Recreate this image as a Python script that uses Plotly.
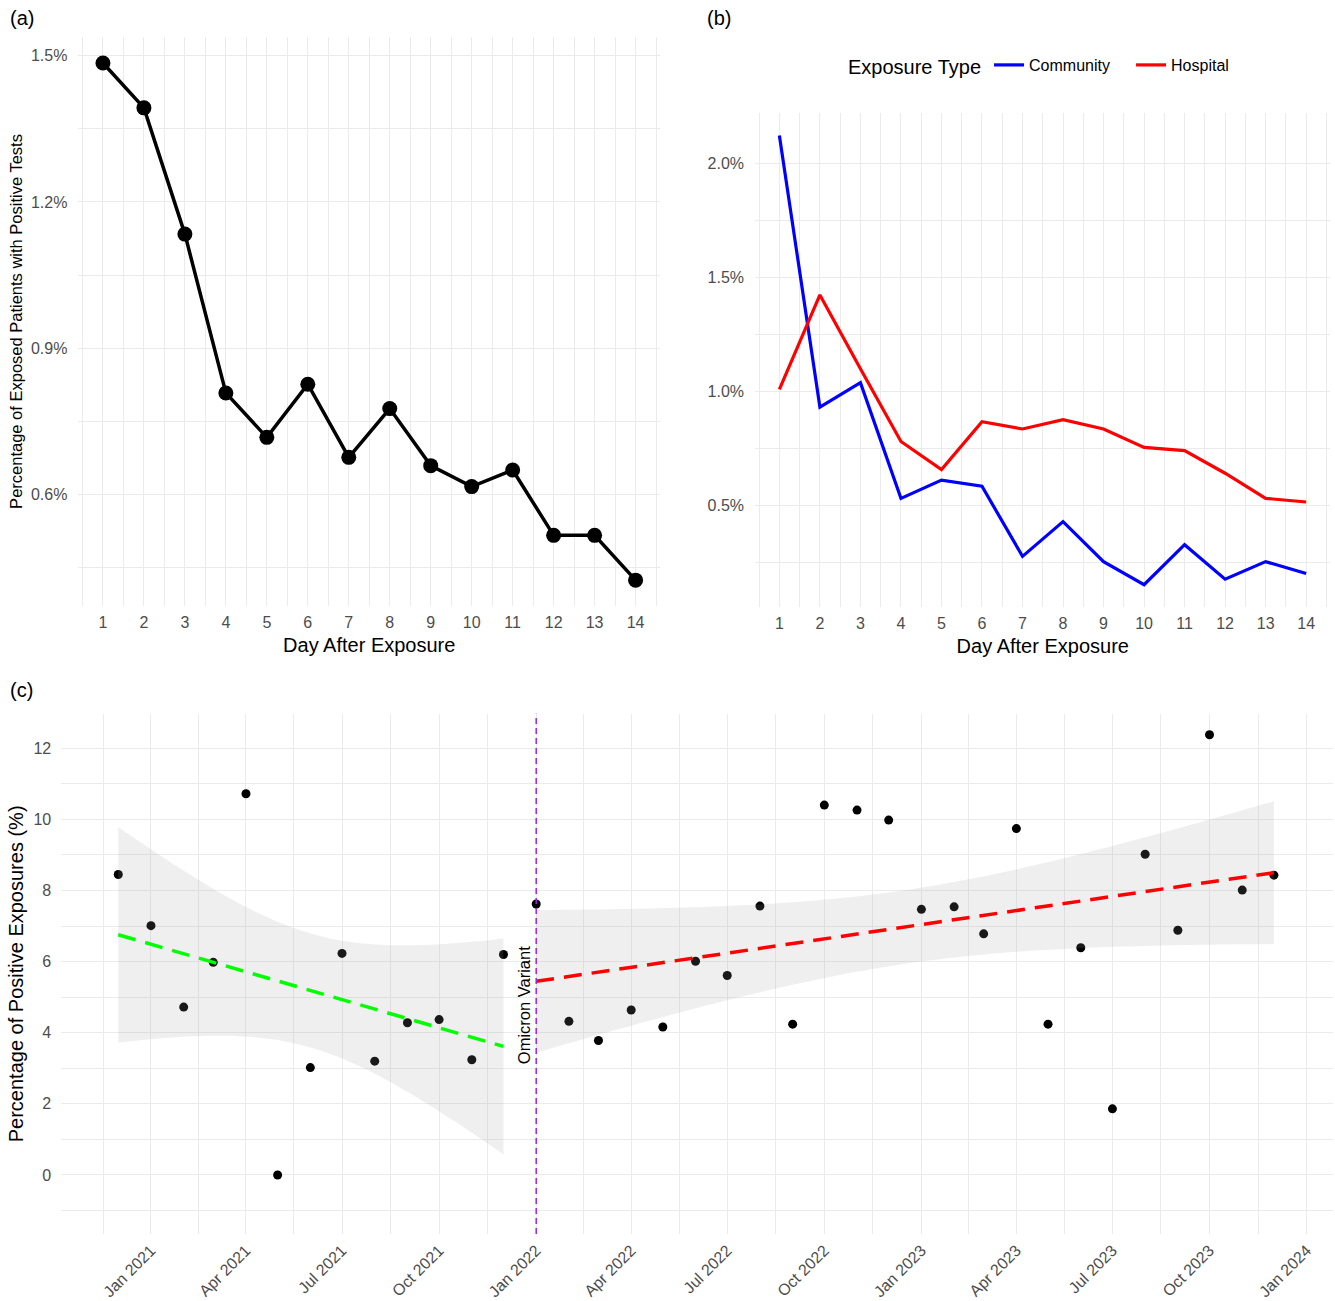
import numpy as np
import pandas as pd
import plotly.graph_objects as go

# ---------------- data ----------------
days = list(range(1, 15))
overall_pct = [1.485, 1.393, 1.134, 0.808, 0.717, 0.826, 0.676, 0.776, 0.659, 0.616,
               0.650, 0.516, 0.516, 0.424]
community_pct = [2.121, 0.932, 1.039, 0.532, 0.612, 0.585, 0.278, 0.430, 0.255, 0.154,
                 0.329, 0.178, 0.255, 0.203]
hospital_pct = [1.009, 1.423, 1.100, 0.781, 0.658, 0.868, 0.836, 0.877, 0.836, 0.755,
                0.741, 0.642, 0.532, 0.516]
a_yticks = [0.6, 0.9, 1.2, 1.5]
b_yticks = [0.5, 1.0, 1.5, 2.0]

month_labels = pd.date_range("2020-12-01", "2023-12-01", freq="MS")
monthly_pct = [8.45, 7.01, 4.72, 5.98, 10.72, 0.00, 3.02, 6.23, 3.20, 4.28, 4.37, 3.24, 6.20,
               7.62, 4.32, 3.78, 4.64, 4.16, 6.01, 5.61, 7.56, 4.24, 10.40, 10.26, 9.98,
               7.47, 7.54, 6.78, 9.74, 4.24, 6.39, 1.86, 9.02, 6.88, 12.38, 8.01, 8.43]
omicron_date = pd.Timestamp("2022-01-01")
omicron_label = "Omicron Variant"
date_breaks = pd.date_range("2021-01-01", "2024-01-01", freq="3MS")
c_yticks = [0, 2, 4, 6, 8, 10, 12]

FONT = "Liberation Sans, Arial, sans-serif"
GRID = "#EBEBEB"
TICKC = "#4D4D4D"

fig = go.Figure()

# ---------------- panel (a) ----------------
fig.add_trace(go.Scatter(x=days, y=overall_pct, mode="lines+markers",
                         line=dict(color="black", width=3.5),
                         marker=dict(color="black", size=15),
                         showlegend=False, xaxis="x", yaxis="y"))

# ---------------- panel (b) ----------------
fig.add_trace(go.Scatter(x=days, y=community_pct, mode="lines", name="Community",
                         line=dict(color="#0000FF", width=3.2), xaxis="x2", yaxis="y2"))
fig.add_trace(go.Scatter(x=days, y=hospital_pct, mode="lines", name="Hospital",
                         line=dict(color="#FF0000", width=3.2), xaxis="x2", yaxis="y2"))

# ---------------- panel (c) ----------------
fig.add_trace(go.Scatter(x=month_labels, y=monthly_pct, mode="markers",
                         marker=dict(color="black", size=9), showlegend=False,
                         xaxis="x3", yaxis="y3"))


def lm_band(dates, vals, tval, n_grid=80):
    d = np.array([(t - pd.Timestamp("1970-01-01")).days for t in dates], dtype=float)
    y = np.array(vals, dtype=float)
    n = len(d)
    xb = d.mean()
    sxx = ((d - xb) ** 2).sum()
    b1 = ((d - xb) * (y - y.mean())).sum() / sxx
    b0 = y.mean() - b1 * xb
    res = y - (b0 + b1 * d)
    s = np.sqrt((res ** 2).sum() / (n - 2))
    g = np.linspace(d.min(), d.max(), n_grid)
    fit = b0 + b1 * g
    se = s * np.sqrt(1.0 / n + (g - xb) ** 2 / sxx)
    gd = pd.to_datetime(g, unit="D")
    return gd, fit, fit - tval * se, fit + tval * se


pre_mask = [m < omicron_date for m in month_labels]
pre_dates = [m for m, k in zip(month_labels, pre_mask) if k]
pre_vals = [v for v, k in zip(monthly_pct, pre_mask) if k]
post_dates = [m for m, k in zip(month_labels, pre_mask) if not k]
post_vals = [v for v, k in zip(monthly_pct, pre_mask) if not k]

for dates, vals, tval, col in [(pre_dates, pre_vals, 2.200985, "#00FF00"),
                               (post_dates, post_vals, 2.073873, "#FF0000")]:
    gd, fit, lo, hi = lm_band(dates, vals, tval)
    xs = list(gd) + list(gd[::-1])
    ys = list(hi) + list(lo[::-1])
    fig.add_trace(go.Scatter(x=xs, y=ys, fill="toself", mode="none",
                             fillcolor="rgba(153,153,153,0.16)", showlegend=False,
                             hoverinfo="skip", xaxis="x3", yaxis="y3"))
    fig.add_trace(go.Scatter(x=gd, y=fit, mode="lines",
                             line=dict(color=col, width=3.5, dash="18px,10px"),
                             showlegend=False, xaxis="x3", yaxis="y3"))

fig.add_shape(type="line", xref="x3", yref="paper", x0=omicron_date, x1=omicron_date,
              y0=0.0515, y1=0.4514,
              line=dict(color="#A020F0", width=1.5, dash="6px,4px"))

fig.add_annotation(x=omicron_date, y=4.78, xref="x3", yref="y3", text=omicron_label,
                   textangle=-90, showarrow=False, xanchor="right", yanchor="middle",
                   xshift=-1, font=dict(family=FONT, size=16.5, color="black"))

# panel labels
for lbl, px, py in [("(a)", 8, 18), ("(b)", 705, 18), ("(c)", 8, 690)]:
    fig.add_annotation(x=px / 1335, y=1 - py / 1301, xref="paper", yref="paper", text=lbl,
                       showarrow=False, xanchor="left", yanchor="middle",
                       font=dict(family=FONT, size=20, color="black"))

common_x = dict(showgrid=True, gridcolor=GRID, gridwidth=1.3, zeroline=False,
                showline=False, ticks="", automargin=False, ticklabelstandoff=5,
                tickfont=dict(family=FONT, size=16, color=TICKC),
                title_font=dict(family=FONT, size=20, color="black"))
common_y = dict(showgrid=True, gridcolor=GRID, gridwidth=1.3, zeroline=False,
                showline=False, ticks="", automargin=False,
                tickfont=dict(family=FONT, size=16, color=TICKC))

fig.update_layout(
    width=1335, height=1301, margin=dict(l=0, r=0, t=0, b=0, autoexpand=False),
    paper_bgcolor="white", plot_bgcolor="white",
    font=dict(family=FONT, color="black"),
    xaxis=dict(domain=[0.0587, 0.4945], range=[0.4, 14.6], tickvals=days,
               ticktext=[str(d) for d in days],
               minor=dict(tick0=0.5, dtick=1, showgrid=True, gridcolor=GRID, gridwidth=0.7),
               title=dict(text="Day After Exposure", standoff=7), anchor="y", **common_x),
    yaxis=dict(domain=[0.5342, 0.9716], range=[0.371, 1.5385],
               tickvals=a_yticks, ticktext=[f"{v:.1f}%" for v in a_yticks],
               ticklabelstandoff=10,
               minor=dict(tickvals=[0.45, 0.75, 1.05, 1.35], showgrid=True, gridcolor=GRID,
                          gridwidth=0.7),
               title=dict(text="Percentage of Exposed Patients with Positive Tests",
                          standoff=4, font=dict(family=FONT, size=16.5, color="black")),
               anchor="x", **common_y),
    xaxis2=dict(domain=[0.5656, 0.9966], range=[0.4, 14.6], tickvals=days,
                ticktext=[str(d) for d in days],
                minor=dict(tick0=0.5, dtick=1, showgrid=True, gridcolor=GRID, gridwidth=0.7),
                title=dict(text="Day After Exposure", standoff=7), anchor="y2", **common_x),
    yaxis2=dict(domain=[0.5334, 0.9130], range=[0.056, 2.219],
                tickvals=b_yticks, ticktext=[f"{v:.1f}%" for v in b_yticks],
                ticklabelstandoff=10,
                minor=dict(tickvals=[0.25, 0.75, 1.25, 1.75], showgrid=True, gridcolor=GRID,
                           gridwidth=0.7),
                anchor="x2", **common_y),
    xaxis3=dict(domain=[0.0459, 0.9985], type="date",
                range=["2020-10-08", "2024-01-26"], tickvals=list(date_breaks),
                ticktext=[d.strftime("%b %Y") for d in date_breaks], tickangle=-45,
                minor=dict(tickvals=[date_breaks[0] - (date_breaks[1] - date_breaks[0]) / 2] +
                           [a + (b - a) / 2 for a, b in zip(date_breaks[:-1], date_breaks[1:])],
                           showgrid=True, gridcolor=GRID, gridwidth=0.7),
                anchor="y3", showgrid=True, gridcolor=GRID, gridwidth=1.3, zeroline=False,
                showline=False, ticks="", automargin=False, ticklabelstandoff=3,
                tickfont=dict(family=FONT, size=16, color=TICKC)),
    yaxis3=dict(domain=[0.0515, 0.4514], range=[-1.66, 12.97],
                tickvals=c_yticks, ticktext=[str(v) for v in c_yticks],
                ticklabelstandoff=9,
                minor=dict(tickvals=[-1, 1, 3, 5, 7, 9, 11], showgrid=True, gridcolor=GRID,
                           gridwidth=0.7),
                title=dict(text="Percentage of Positive Exposures (%)", standoff=4,
                           font=dict(family=FONT, size=20, color="black")),
                anchor="x3", **common_y),
    legend=dict(orientation="h", x=846 / 1335, xanchor="left", y=1 - 66 / 1301,
                yanchor="middle", entrywidth=97, entrywidthmode="pixels",
                title=dict(text="Exposure Type", side="left",
                           font=dict(family=FONT, size=20, color="black")),
                font=dict(family=FONT, size=16, color="black"),
                bgcolor="rgba(0,0,0,0)"),
)

fig.write_html("out.html", config={"displayModeBar": False},
               post_script="document.body.style.margin='0px';document.body.style.overflow='hidden';")
